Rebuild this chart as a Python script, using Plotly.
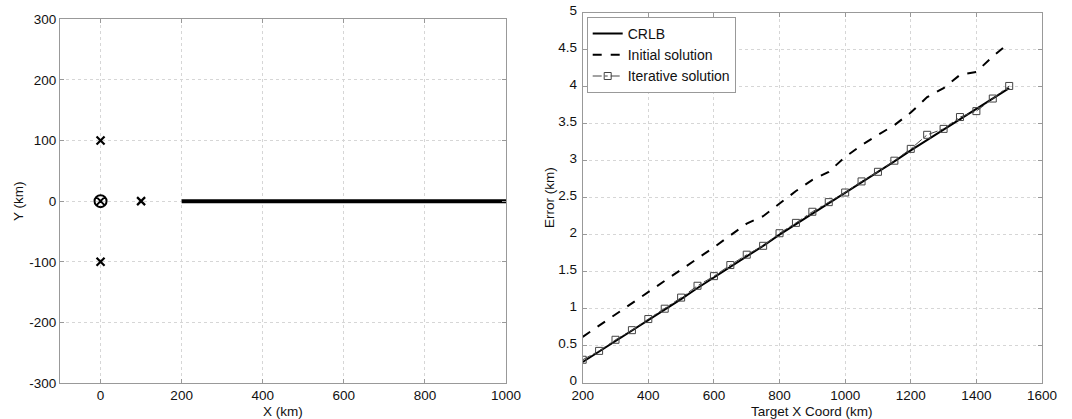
import plotly.graph_objects as go

# left panel: sensor layout and target track
sensor_x = [0, 0, 100]
sensor_y = [100, -100, 0]
ref_x = [0]
ref_y = [0]
track_x = [200, 1000]
track_y = [0, 0]
left_xticks = [0, 200, 400, 600, 800, 1000]
left_yticks = [-300, -200, -100, 0, 100, 200, 300]
left_ylabels = ['-300', '-200', '-100', '0', '100', '200', '300']

# right panel: error vs target x coordinate
target_x = [200, 250, 300, 350, 400, 450, 500, 550, 600, 650, 700, 750, 800, 850,
            900, 950, 1000, 1050, 1100, 1150, 1200, 1250, 1300, 1350, 1400, 1450, 1500]
crlb = [0.28, 0.42, 0.56, 0.70, 0.84, 0.99, 1.13, 1.28, 1.42, 1.56, 1.71, 1.85, 2.00, 2.14,
        2.28, 2.42, 2.57, 2.71, 2.85, 2.99, 3.14, 3.28, 3.42, 3.56, 3.70, 3.84, 3.98]
initial = [0.62, 0.77, 0.92, 1.07, 1.22, 1.38, 1.53, 1.68, 1.83, 1.99, 2.15, 2.25, 2.42, 2.59,
           2.74, 2.85, 3.05, 3.21, 3.35, 3.48, 3.65, 3.86, 3.98, 4.16, 4.20, 4.41, 4.59]
iterative = [0.31, 0.43, 0.58, 0.71, 0.86, 1.00, 1.15, 1.31, 1.44, 1.59, 1.73, 1.85, 2.02, 2.16,
             2.31, 2.44, 2.57, 2.72, 2.85, 3.00, 3.16, 3.35, 3.43, 3.59, 3.67, 3.84, 4.01]

W, H = 1072, 419
FONT = 'Liberation Sans, Arial'

fig = go.Figure()

fig.add_trace(go.Scatter(x=track_x, y=track_y, mode='lines', line=dict(color='black', width=4),
                         showlegend=False, xaxis='x', yaxis='y'))
fig.add_trace(go.Scatter(x=sensor_x, y=sensor_y, mode='markers',
                         marker=dict(symbol='x-thin', size=8, line=dict(color='black', width=2.2)),
                         showlegend=False, xaxis='x', yaxis='y'))
fig.add_trace(go.Scatter(x=ref_x, y=ref_y, mode='markers',
                         marker=dict(symbol='circle-x-open', size=12, color='black',
                                     line=dict(color='black', width=2)),
                         showlegend=False, xaxis='x', yaxis='y'))

fig.add_trace(go.Scatter(x=target_x, y=crlb, mode='lines', name='CRLB',
                         line=dict(color='black', width=2), xaxis='x2', yaxis='y2'))
fig.add_trace(go.Scatter(x=target_x, y=initial, mode='lines', name='Initial solution',
                         line=dict(color='black', width=2, dash='dash'), xaxis='x2', yaxis='y2'))
fig.add_trace(go.Scatter(x=target_x, y=iterative, mode='lines+markers', name='Iterative solution',
                         line=dict(color='#444', width=1, dash='dashdot'),
                         marker=dict(symbol='square-open', size=7, color='#444',
                                     line=dict(color='#444', width=1)),
                         xaxis='x2', yaxis='y2'))

axis_common = dict(showline=True, linecolor='#999', linewidth=1, mirror='ticks',
                   ticks='inside', ticklen=4, tickcolor='#999',
                   showgrid=True, gridcolor='#d6d6d6', griddash='dot', gridwidth=1,
                   zeroline=False, tickfont=dict(size=13.5, color='#111', family=FONT),
                   fixedrange=True, automargin=False)

fig.update_layout(
    width=W, height=H,
    template='plotly_white',
    plot_bgcolor='white',
    paper_bgcolor='white',
    margin=dict(l=0, r=0, t=0, b=0),
    font=dict(family=FONT, color='#111'),
    xaxis=dict(domain=[60 / W, 506 / W], range=[-100, 1000], tickvals=left_xticks,
               anchor='y', **axis_common),
    yaxis=dict(domain=[1 - 383 / H, 1 - 19.3 / H], range=[-300, 300],
               tickvals=left_yticks, ticktext=left_ylabels, anchor='x', **axis_common),
    xaxis2=dict(domain=[582.7 / W, 1042 / W], range=[200, 1600], dtick=200,
                anchor='y2', **axis_common),
    yaxis2=dict(domain=[1 - 382.7 / H, 1 - 12.7 / H], range=[0, 5], dtick=0.5,
                tickformat='~g', ticklabelstandoff=2, ticklabelshift=-2,
                anchor='x2', **axis_common),
    legend=dict(x=586.7 / W, y=1 - 17 / H, xanchor='left', yanchor='top',
                bgcolor='white', bordercolor='#999', borderwidth=1,
                font=dict(size=14, color='#111', family=FONT),
                tracegroupgap=0, itemwidth=30),
    showlegend=True,
    dragmode=False,
)

titles = [
    ('X (km)', 283 / W, 1 - 411.5 / H, 0),
    ('Y (km)', 18 / W, 1 - 201 / H, -90),
    ('Target X Coord (km)', 812 / W, 1 - 411.5 / H, 0),
    ('Error (km)', 549 / W, 1 - 198 / H, -90),
]
for txt, x, y, ang in titles:
    fig.add_annotation(text=txt, x=x, y=y, xref='paper', yref='paper', showarrow=False,
                       textangle=ang, xanchor='center', yanchor='middle',
                       font=dict(size=13.5, color='#111', family=FONT))

fig.write_html('out.html', config={'displayModeBar': False},
               post_script="document.body.style.margin='0';")
